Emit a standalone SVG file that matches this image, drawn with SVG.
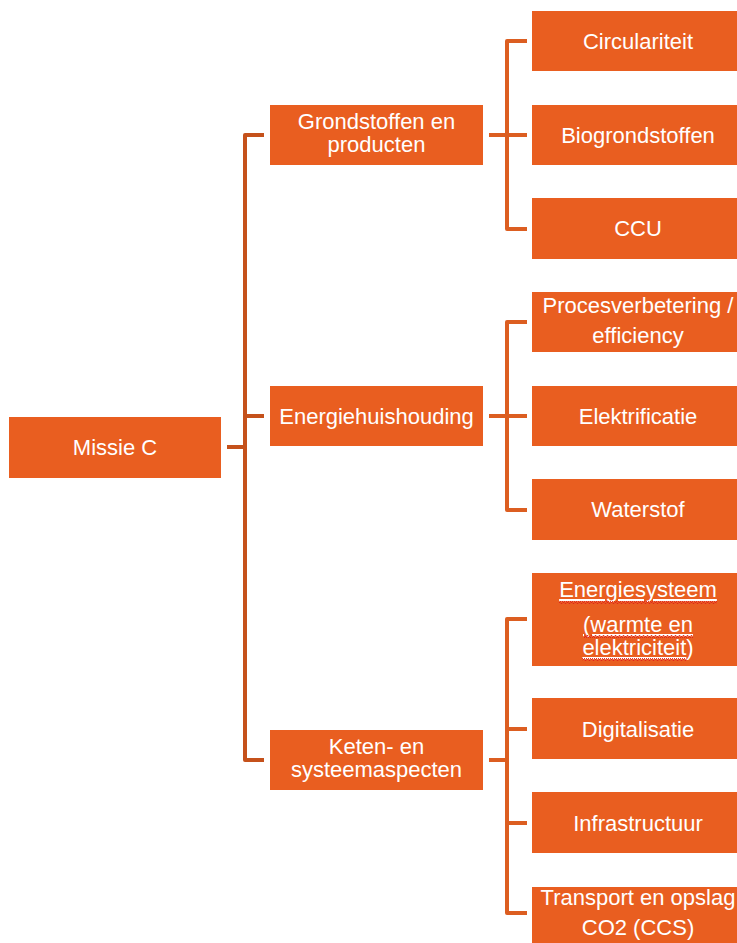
<svg xmlns="http://www.w3.org/2000/svg" width="737" height="943" viewBox="0 0 737 943">
  <defs>
    <style>
      .box { fill: #E95E20; }
      .t { font-family: "Liberation Sans", Arial, sans-serif; font-size: 22px; fill: #FFFFFF; text-anchor: middle; }
      .u { text-decoration: underline; }
      .c1 { fill: none; stroke: #C5511B; stroke-width: 4; stroke-linejoin: round; }
      .c2 { fill: none; stroke: #DC5E21; stroke-width: 4; stroke-linejoin: round; }
    </style>
    <pattern id="squiggle" x="0" y="0" width="4" height="3" patternUnits="userSpaceOnUse">
      <polyline points="0,2.5 1,0.5 2,0.5 3,2.5 4,2.5" fill="none" stroke="#E0201A" stroke-width="0.9"/>
    </pattern>
  </defs>
  <rect width="737" height="943" fill="#FFFFFF"/>

  <g id="connectors">
    <path class="c1" d="M227,447 H245"/>
    <path class="c1" d="M264,135 H245 V760 H264"/>
    <path class="c1" d="M245,416 H264"/>
    <path class="c2" d="M489,135 H507"/>
    <path class="c2" d="M527,41 H507 V229 H527"/>
    <path class="c2" d="M507,135 H527"/>
    <path class="c2" d="M489,416 H527"/>
    <path class="c2" d="M527,322 H507 V510 H527"/>
    <path class="c2" d="M489,760 H507"/>
    <path class="c2" d="M527,619 H507 V913 H527"/>
    <path class="c2" d="M507,729 H527"/>
    <path class="c2" d="M507,823 H527"/>
  </g>

  <g id="missie-c">
    <rect class="box" x="9" y="417" width="212" height="61"/>
    <text class="t" x="115" y="455">Missie C</text>
  </g>

  <g id="grondstoffen">
    <rect class="box" x="270" y="105" width="213" height="60"/>
    <text class="t" x="376.5" y="129">Grondstoffen en</text>
    <text class="t" x="376.5" y="152">producten</text>
  </g>
  <g id="energiehuishouding">
    <rect class="box" x="270" y="386" width="213" height="60"/>
    <text class="t" x="376.5" y="424">Energiehuishouding</text>
  </g>
  <g id="keten">
    <rect class="box" x="270" y="730" width="213" height="60"/>
    <text class="t" x="376.5" y="754">Keten- en</text>
    <text class="t" x="376.5" y="777">systeemaspecten</text>
  </g>

  <g id="circulariteit">
    <rect class="box" x="532" y="11" width="212" height="60"/>
    <text class="t" x="638" y="49">Circulariteit</text>
  </g>
  <g id="biogrondstoffen">
    <rect class="box" x="532" y="105" width="212" height="60"/>
    <text class="t" x="638" y="143">Biogrondstoffen</text>
  </g>
  <g id="ccu">
    <rect class="box" x="532" y="198" width="212" height="61"/>
    <text class="t" x="638" y="236">CCU</text>
  </g>
  <g id="procesverbetering">
    <rect class="box" x="532" y="292" width="212" height="60"/>
    <text class="t" x="638" y="313">Procesverbetering /</text>
    <text class="t" x="638" y="343">efficiency</text>
  </g>
  <g id="elektrificatie">
    <rect class="box" x="532" y="386" width="212" height="60"/>
    <text class="t" x="638" y="424">Elektrificatie</text>
  </g>
  <g id="waterstof">
    <rect class="box" x="532" y="479" width="212" height="61"/>
    <text class="t" x="638" y="517">Waterstof</text>
  </g>
  <g id="energiesysteem">
    <rect class="box" x="532" y="573" width="212" height="93"/>
    <text class="t u" x="638" y="597">Energiesysteem</text>
    <text class="t u" x="638" y="632">(warmte en</text>
    <text class="t" x="638" y="655"><tspan class="u">elektriciteit</tspan>)</text>
    <rect x="559" y="601" width="158" height="3" fill="url(#squiggle)"/>
    <rect x="584" y="635" width="109" height="3" fill="url(#squiggle)"/>
    <rect x="582" y="658" width="104" height="3" fill="url(#squiggle)"/>
  </g>
  <g id="digitalisatie">
    <rect class="box" x="532" y="698" width="212" height="61"/>
    <text class="t" x="638" y="737">Digitalisatie</text>
  </g>
  <g id="infrastructuur">
    <rect class="box" x="532" y="792" width="212" height="61"/>
    <text class="t" x="638" y="831">Infrastructuur</text>
  </g>
  <g id="transport">
    <rect class="box" x="532" y="887" width="212" height="70"/>
    <text class="t" x="638" y="905">Transport en opslag</text>
    <text class="t" x="638" y="935">CO2 (CCS)</text>
  </g>
</svg>
